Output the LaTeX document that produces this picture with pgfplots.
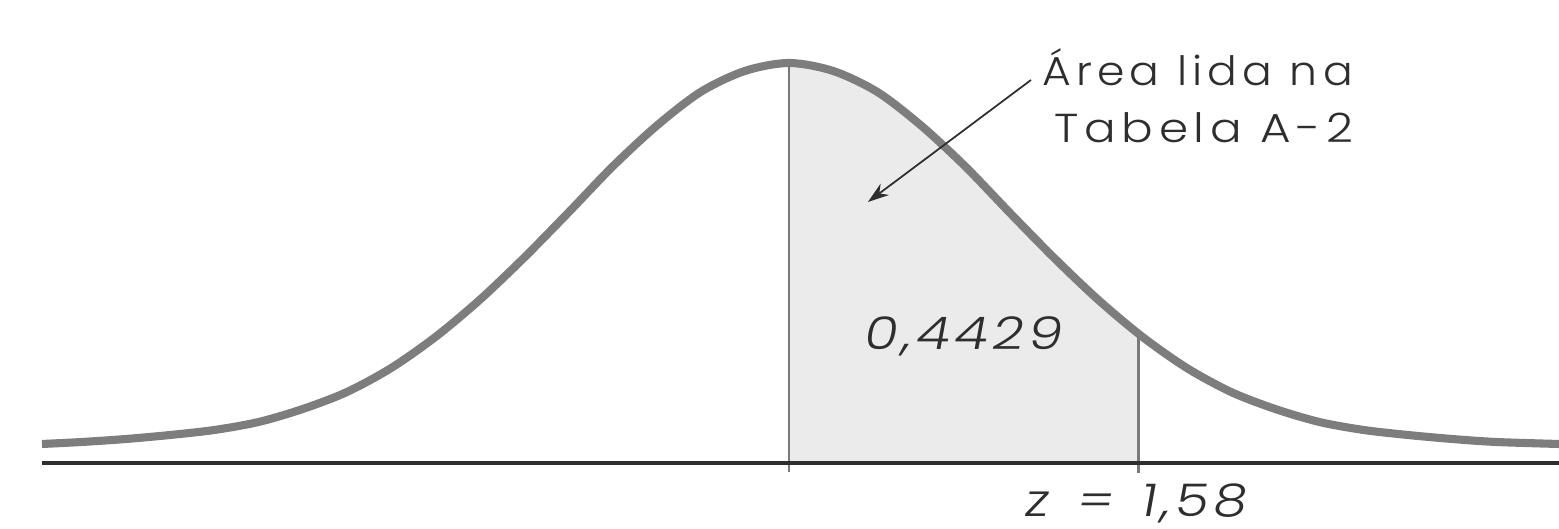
\documentclass[border=0pt]{standalone}
\usepackage{fontspec}
\setmainfont{Poppins}
\newfontfamily\lightf{Poppins Light}[LetterSpace=12]
\newfontfamily\oblf{Poppins Light}[FakeSlant=0.15, LetterSpace=8]
\usepackage{pgfplots}
\usepackage{pgfplotstable}
\pgfplotsset{compat=1.18}
\usepgfplotslibrary{fillbetween}
\usetikzlibrary{arrows.meta}

\definecolor{curvegray}{HTML}{7D7D7D}
\definecolor{shade}{HTML}{EBEBEB}
\definecolor{ink}{HTML}{2E2E2E}
\definecolor{vline}{HTML}{7A7A7A}

% curve (z, height)
\pgfplotstableread{
z      y
-3.38  0.019
-3.2   0.021
-3.0   0.024
-2.8   0.028
-2.6   0.033
-2.4   0.041
-2.2   0.054
-2.0   0.071
-1.8   0.095
-1.6   0.126
-1.4   0.163
-1.2   0.205
-1.0   0.250
-0.8   0.296
-0.6   0.337
-0.4   0.371
-0.2   0.392
0.0    0.400
0.2    0.392
0.4    0.371
0.6    0.337
0.8    0.296
1.0    0.250
1.2    0.205
1.4    0.163
1.6    0.126
1.8    0.095
2.0    0.071
2.2    0.054
2.4    0.041
2.6    0.033
2.8    0.028
3.0    0.024
3.2    0.021
3.484  0.019
}\curvedata

\begin{document}
\begin{tikzpicture}
\begin{axis}[
    scale only axis,
    width=15.59cm, height=5.29cm,
    xmin=-3.570, xmax=3.484,
    ymin=-0.066, ymax=0.463,
    hide axis,
    clip=false,
  ]
  % named paths for the shaded region
  \addplot[draw=none, smooth, name path=curve] table[x=z, y=y] {\curvedata};
  \addplot[draw=none, name path=base] coordinates {(-3.38,0) (3.48,0)};
  \addplot[fill=shade, draw=none] fill between[of=curve and base, soft clip={domain=0:1.58}];

  % vertical lines at 0 and z = 1,58
  \addplot[vline, line width=0.8pt] coordinates {(0,-0.009) (0,0.400)};
  \addplot[vline, line width=0.8pt] coordinates {(1.58,-0.010) (1.58,0.129)};

  % baseline
  \addplot[ink, line width=1pt] coordinates {(-3.38,0) (3.484,0)};

  % the curve
  \addplot[curvegray, line width=2.3pt, smooth] table[x=z, y=y] {\curvedata};

  % annotation
  \draw[ink, line width=0.5pt, -{Stealth[length=6pt, width=4pt]}]
    (axis cs:1.095,0.383) -- (axis cs:0.357,0.261);
  \node[ink, anchor=base, xscale=1.09, font=\lightf\fontsize{11.5}{13}\selectfont] at (axis cs:1.848,0.377) {Área lida na};
  \node[ink, anchor=base, xscale=1.16, font=\lightf\fontsize{11.5}{13}\selectfont] at (axis cs:1.878,0.320) {Tabela A-2};
  \node[ink, anchor=base, xscale=1.22, font=\oblf\fontsize{12.8}{15}\selectfont] at (axis cs:0.781,0.113) {0,4429};
  \node[ink, anchor=base, xscale=1.2, font=\oblf\fontsize{12.8}{15}\selectfont] at (axis cs:1.561,-0.054) {z \,=\, 1,58};
\end{axis}
\pgfresetboundingbox
\useasboundingbox (current axis.south west) rectangle (current axis.north east);
\end{tikzpicture}
\end{document}
